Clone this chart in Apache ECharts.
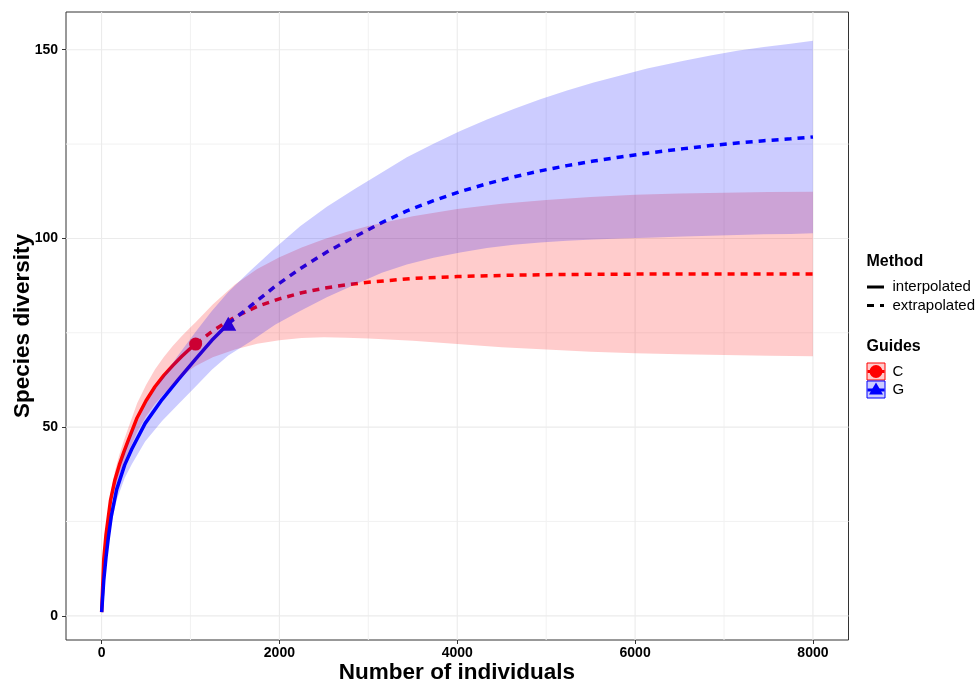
<!DOCTYPE html>
<html><head><meta charset="utf-8">
<script src="https://cdn.jsdelivr.net/npm/echarts@6/dist/echarts.min.js"></script>
<style>html,body{margin:0;padding:0;background:#fff}#c{width:979px;height:683px}</style>
</head><body><div id="c"></div>
<script>
// ---- Data ----
// Site C: interpolated (rarefaction) part
const cInterpX  = [1, 25, 50, 100, 150, 200, 250, 300, 400, 500, 600, 700, 800, 900, 1000, 1058];
const cInterpY  = [1.0, 15.0, 21.5, 30.5, 36.0, 40.0, 43.4, 46.5, 52.5, 57.0, 60.7, 63.7, 66.3, 68.7, 70.9, 72.0];
const cInterpLo = [1.0, 14.2, 20.3, 28.7, 33.7, 37.3, 40.4, 43.2, 48.7, 52.8, 56.1, 58.8, 61.1, 63.3, 65.3, 66.2];
const cInterpHi = [1.0, 15.8, 22.7, 32.3, 38.3, 42.7, 46.4, 49.8, 56.3, 61.2, 65.3, 68.6, 71.5, 74.1, 76.5, 77.8];
// Site C: extrapolated part
const cExtX  = [1058, 1250, 1500, 1750, 2000, 2250, 2500, 2750, 3000, 3500, 4000, 4500, 5000, 5500, 6000, 6500, 7000, 7500, 8000];
const cExtY  = [72.0, 75.5, 79.2, 82.0, 84.0, 85.6, 86.8, 87.7, 88.4, 89.4, 89.9, 90.2, 90.4, 90.5, 90.55, 90.6, 90.6, 90.6, 90.6];
const cExtLo = [66.2, 68.5, 70.6, 72.1, 73.0, 73.6, 73.8, 73.7, 73.5, 72.9, 72.0, 71.2, 70.6, 70.0, 69.55, 69.3, 69.1, 68.9, 68.8];
const cExtHi = [77.8, 82.5, 87.8, 91.9, 95.0, 97.6, 99.8, 101.7, 103.3, 105.9, 107.8, 109.2, 110.2, 111.0, 111.55, 111.9, 112.1, 112.3, 112.4];
// Site G: interpolated part
const gInterpX  = [1, 25, 50, 75, 110, 170, 260, 340, 490, 680, 860, 1050, 1240, 1425];
const gInterpY  = [1.0, 9.5, 15.5, 20.5, 26.5, 33.5, 40.0, 44.2, 51.0, 57.3, 62.5, 67.8, 73.0, 77.4];
const gInterpLo = [1.0, 8.7, 14.2, 18.8, 24.3, 30.7, 36.5, 40.2, 46.2, 51.6, 56.0, 60.6, 65.2, 69.0];
const gInterpHi = [1.0, 10.3, 16.8, 22.2, 28.7, 36.3, 43.5, 48.2, 55.8, 63.0, 69.0, 75.0, 80.8, 85.8];
// Site G: extrapolated part
const gExtX  = [1425, 1670, 1951, 2233, 2533, 2851, 3152, 3433, 3733, 4033, 4334, 4634, 4934, 5234, 5534, 5835, 6135, 6547, 6848, 7148, 7448, 7748, 8000];
const gExtY  = [77.4, 82.0, 87.3, 92.0, 96.4, 100.5, 104.2, 107.3, 110.0, 112.4, 114.5, 116.3, 117.9, 119.3, 120.5, 121.6, 122.6, 123.8, 124.6, 125.3, 125.9, 126.4, 126.9];
const gExtLo = [69.0, 72.6, 77.1, 80.8, 84.4, 87.8, 90.9, 93.1, 94.9, 96.3, 97.5, 98.3, 98.9, 99.4, 99.7, 100.0, 100.2, 100.5, 100.7, 100.9, 101.1, 101.2, 101.4];
const gExtHi = [85.8, 91.4, 97.5, 103.2, 108.4, 113.2, 117.5, 121.5, 125.1, 128.5, 131.5, 134.3, 136.9, 139.2, 141.3, 143.2, 145.0, 147.1, 148.5, 149.7, 150.7, 151.6, 152.4];
// Observed reference samples
const cObs = [1058, 72.0];
const gObs = [1425, 77.4];
// Ticks / grid
const xTicks = [0, 2000, 4000, 6000, 8000];
const xMinor = [1000, 3000, 5000, 7000];
const yTicks = [0, 50, 100, 150];
const yMinor = [25, 75, 125];

// ---- Chart ----
const FONT = '"Liberation Sans", Arial, sans-serif';
const zip = (xs, ys) => xs.map((x, i) => [x, ys[i]]);

function ribbon(name, xs, lo, hi, fill) {
  return {
    type: 'custom', name: name, z: 3, silent: true, clip: false,
    data: [[xs[0], lo[0]]],
    renderItem: function (params, api) {
      const pts = [];
      for (let i = 0; i < xs.length; i++) pts.push(api.coord([xs[i], hi[i]]));
      for (let i = xs.length - 1; i >= 0; i--) pts.push(api.coord([xs[i], lo[i]]));
      return { type: 'polygon', shape: { points: pts }, style: { fill: fill } };
    }
  };
}

const cX = cInterpX.concat(cExtX.slice(1));
const cLo = cInterpLo.concat(cExtLo.slice(1));
const cHi = cInterpHi.concat(cExtHi.slice(1));
const gX = gInterpX.concat(gExtX.slice(1));
const gLo = gInterpLo.concat(gExtLo.slice(1));
const gHi = gInterpHi.concat(gExtHi.slice(1));

const gridSeries = {
  type: 'custom', z: 1, silent: true, clip: false,
  data: [[0, 0]],
  renderItem: function (params, api) {
    const cs = params.coordSys;
    const ch = [];
    const vline = (v, col, w) => { const p = api.coord([v, 0]); ch.push({ type: 'line', shape: { x1: p[0], y1: cs.y, x2: p[0], y2: cs.y + cs.height }, style: { stroke: col, lineWidth: w } }); };
    const hline = (v, col, w) => { const p = api.coord([0, v]); ch.push({ type: 'line', shape: { x1: cs.x, y1: p[1], x2: cs.x + cs.width, y2: p[1] }, style: { stroke: col, lineWidth: w } }); };
    xMinor.forEach(v => vline(v, '#f2f2f2', 1));
    yMinor.forEach(v => hline(v, '#f2f2f2', 1));
    xTicks.forEach(v => vline(v, '#ebebeb', 1.1));
    yTicks.forEach(v => hline(v, '#ebebeb', 1.1));
    return { type: 'group', children: ch };
  }
};

const lineBase = { type: 'line', showSymbol: false, silent: true, z: 2, smooth: false };
const solidW = 3.5;
const plain = v => String(v);

const option = {
  animation: false,
  backgroundColor: '#ffffff',
  grid: { left: 66, top: 12, width: 782.5, height: 628, show: true, borderColor: '#333333', borderWidth: 1, backgroundColor: 'transparent' },
  xAxis: {
    type: 'value', min: -400, max: 8400, position: 'bottom',
    axisLine: { show: false, onZero: false },
    axisTick: { show: true, inside: false, length: 4, lineStyle: { color: '#333333', width: 1 }, customValues: xTicks },
    axisLabel: { customValues: xTicks, formatter: plain, fontSize: 14, fontWeight: 'bold', color: '#000', margin: 6, fontFamily: FONT },
    splitLine: { show: false }
  },
  yAxis: {
    type: 'value', min: -6.4, max: 160, position: 'left',
    axisLine: { show: false, onZero: false },
    axisTick: { show: true, inside: false, length: 4, lineStyle: { color: '#333333', width: 1 }, customValues: yTicks },
    axisLabel: { customValues: yTicks, formatter: plain, fontSize: 14, fontWeight: 'bold', color: '#000', margin: 8, fontFamily: FONT },
    splitLine: { show: false }
  },
  series: [
    gridSeries,
    Object.assign({}, lineBase, { name: 'C interp', data: zip(cInterpX, cInterpY), lineStyle: { color: '#ff0000', width: solidW } }),
    Object.assign({}, lineBase, { name: 'C extrap', data: zip(cExtX, cExtY), lineStyle: { color: '#ff0000', width: solidW, type: [7, 6], cap: 'butt' } }),
    Object.assign({}, lineBase, { name: 'G interp', data: zip(gInterpX, gInterpY), lineStyle: { color: '#0000ff', width: solidW } }),
    Object.assign({}, lineBase, { name: 'G extrap', data: zip(gExtX, gExtY), lineStyle: { color: '#0000ff', width: solidW, type: [7, 6], cap: 'butt' } }),
    { type: 'scatter', name: 'C obs', z: 2, silent: true, data: [cObs], symbol: 'circle', symbolSize: 13, itemStyle: { color: '#ff0000', opacity: 1 } },
    { type: 'scatter', name: 'G obs', z: 2, silent: true, data: [gObs], symbol: 'triangle', symbolSize: [16, 14], itemStyle: { color: '#0000ff', opacity: 1 } },
    ribbon('C band', cX, cLo, cHi, 'rgba(255,0,0,0.2)'),
    ribbon('G band', gX, gLo, gHi, 'rgba(0,0,255,0.2)')
  ],
  graphic: [
    { type: 'text', x: 457, y: 673, style: { text: 'Number of individuals', font: 'bold 22.5px ' + FONT, fill: '#000', align: 'center', verticalAlign: 'middle' } },
    { type: 'text', x: 23, y: 326, rotation: Math.PI / 2, style: { text: 'Species diversity', font: 'bold 22.5px ' + FONT, fill: '#000', align: 'center', verticalAlign: 'middle' } },
    // Method legend
    { type: 'text', x: 866.5, y: 262, style: { text: 'Method', font: 'bold 16px ' + FONT, fill: '#000', align: 'left', verticalAlign: 'middle' } },
    { type: 'line', shape: { x1: 867, y1: 287, x2: 884, y2: 287 }, style: { stroke: '#000', lineWidth: 3 } },
    { type: 'text', x: 892.5, y: 287, style: { text: 'interpolated', font: '15px ' + FONT, fill: '#000', align: 'left', verticalAlign: 'middle' } },
    { type: 'line', shape: { x1: 867, y1: 305.5, x2: 884, y2: 305.5 }, style: { stroke: '#000', lineWidth: 3, lineDash: [7, 6] } },
    { type: 'text', x: 892.5, y: 305.5, style: { text: 'extrapolated', font: '15px ' + FONT, fill: '#000', align: 'left', verticalAlign: 'middle' } },
    // Guides legend
    { type: 'text', x: 866.5, y: 347, style: { text: 'Guides', font: 'bold 16px ' + FONT, fill: '#000', align: 'left', verticalAlign: 'middle' } },
    { type: 'rect', shape: { x: 867, y: 363, width: 18, height: 17 }, style: { fill: 'rgba(255,0,0,0.2)', stroke: '#ff0000', lineWidth: 1 } },
    { type: 'line', shape: { x1: 867.5, y1: 371.5, x2: 884.5, y2: 371.5 }, style: { stroke: '#ff0000', lineWidth: 3 } },
    { type: 'circle', shape: { cx: 876, cy: 371.5, r: 6.5 }, style: { fill: '#ff0000' } },
    { type: 'text', x: 892.5, y: 371.5, style: { text: 'C', font: '15px ' + FONT, fill: '#000', align: 'left', verticalAlign: 'middle' } },
    { type: 'rect', shape: { x: 867, y: 381, width: 18, height: 17 }, style: { fill: 'rgba(0,0,255,0.2)', stroke: '#0000ff', lineWidth: 1 } },
    { type: 'line', shape: { x1: 867.5, y1: 390, x2: 884.5, y2: 390 }, style: { stroke: '#0000ff', lineWidth: 3 } },
    { type: 'polygon', shape: { points: [[876, 382.5], [883, 394.5], [869, 394.5]] }, style: { fill: '#0000ff' } },
    { type: 'text', x: 892.5, y: 389.5, style: { text: 'G', font: '15px ' + FONT, fill: '#000', align: 'left', verticalAlign: 'middle' } }
  ]
};

const chart = echarts.init(document.getElementById('c'), null, { renderer: 'canvas' });
chart.setOption(option);
</script></body></html>
